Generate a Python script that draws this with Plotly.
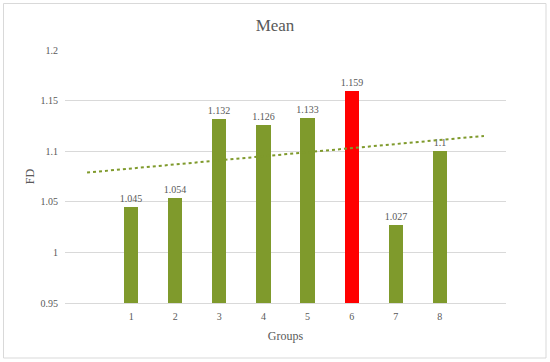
import numpy as np
import plotly.graph_objects as go

groups = [1, 2, 3, 4, 5, 6, 7, 8]
means = [1.045, 1.054, 1.132, 1.126, 1.133, 1.159, 1.027, 1.1]
highlight_group = 6
y_ticks = [0.95, 1.0, 1.05, 1.1, 1.15, 1.2]
y_tick_text = ["0.95", "1", "1.05", "1.1", "1.15", "1.2"]

GREEN = "#7f9a2c"
RED = "#ff0000"
TXT = "#595959"
FONT = "Liberation Serif"

colors = [RED if g == highlight_group else GREEN for g in groups]
labels = [f"{v:g}" for v in means]

# linear trendline from the data (Excel-style), extended over the blank slots
slope, intercept = np.polyfit(groups, means, 1)
tx = [0, 9]
ty = [intercept + slope * x for x in tx]

fig = go.Figure()
fig.add_trace(go.Bar(
    x=groups, y=means, marker=dict(color=colors, line=dict(width=0)),
    width=0.32, text=labels, textposition="outside", constraintext="none",
    textfont=dict(family=FONT, size=10, color=TXT),
    cliponaxis=False, showlegend=False,
))
fig.add_trace(go.Scatter(
    x=tx, y=ty, mode="lines",
    line=dict(color=GREEN, width=2, dash="dot"),
    showlegend=False, hoverinfo="skip",
))

fig.update_layout(
    width=550, height=362,
    margin=dict(l=65, r=44, t=50, b=59),
    paper_bgcolor="white", plot_bgcolor="white",
    title=dict(text="Mean", x=0.5, xanchor="center", y=0.93, yanchor="middle",
               font=dict(family=FONT, size=17, color=TXT)),
    font=dict(family=FONT, color=TXT),
    bargap=0,
    xaxis=dict(
        range=[-0.5, 9.5], tickmode="array", tickvals=groups,
        ticktext=[str(g) for g in groups], showgrid=False, zeroline=False,
        showline=True, linecolor="#d9d9d9", linewidth=1, ticks="",
        ticklabelstandoff=4,
        tickfont=dict(family=FONT, size=10, color=TXT),
        title=dict(text="Groups", font=dict(family=FONT, size=12, color=TXT), standoff=10),
    ),
    yaxis=dict(
        range=[0.95, 1.2], tickmode="array", tickvals=y_ticks, ticktext=y_tick_text,
        showgrid=True, gridcolor="#d9d9d9", gridwidth=1, zeroline=False,
        showline=False, ticks="", ticklabelstandoff=6,
        tickfont=dict(family=FONT, size=10, color=TXT),
        title=dict(text="FD", font=dict(family=FONT, size=12, color=TXT), standoff=3),
    ),
    shapes=[dict(type="rect", xref="paper", yref="paper",
                 x0=(3.5 - 65) / 441, x1=(546 - 65) / 441,
                 y0=(303 - 358) / 253, y1=(303 - 3.5) / 253,
                 line=dict(color="#d9d9d9", width=1), fillcolor="rgba(0,0,0,0)", layer="below")],
)

fig.write_html("out.html", config={"displayModeBar": False},
               post_script="document.body.style.margin='0px';")
